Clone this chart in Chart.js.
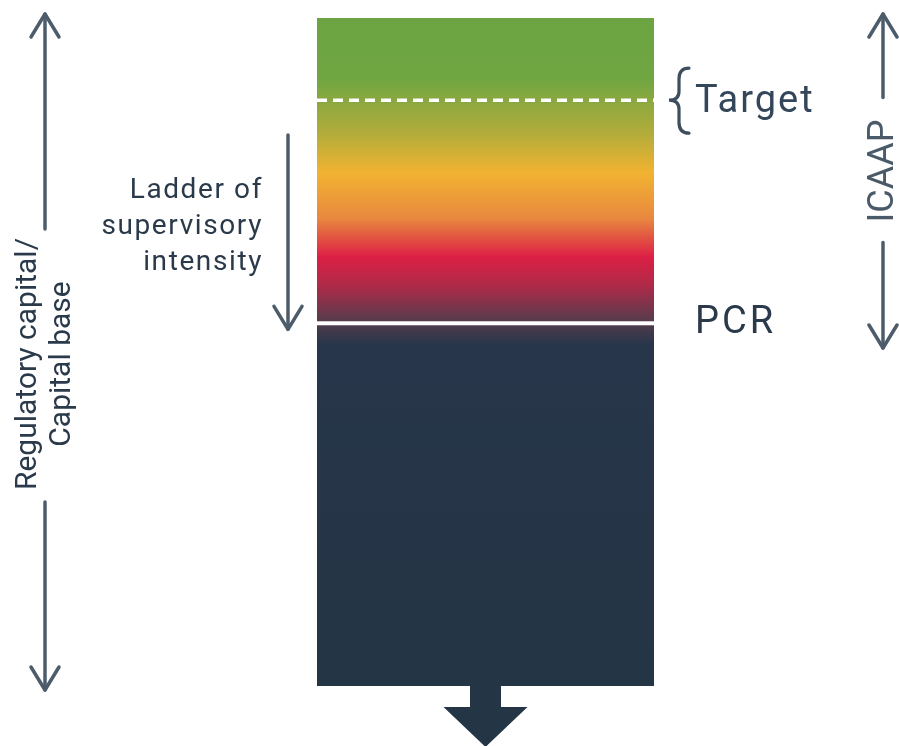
<!DOCTYPE html>
<html>
<head>
<meta charset="utf-8">
<script src="https://cdn.jsdelivr.net/npm/chart.js@4/dist/chart.umd.min.js"></script>
<style>
  body { margin: 0; background: #ffffff; }
  #wrap { width: 899px; height: 746px; position: relative; }
</style>
</head>
<body>
<div id="wrap"><canvas id="capitalChart"></canvas></div>
<script>
// column is measured in % of its full height (0 = bottom, 100 = top)
const segments = ["Capital base up to PCR", "Capital above PCR"];
const segmentValues = [54.3, 45.7];
const pcrLevel = 54.3;
const targetLevel = 87.7;
const ladderRange = [82.5, 53.4];     // arrow from / to
const leftArrowRange = [100.6, -0.6];
const rightArrowRange = [100.6, 50.6];

const leftLabelLines = ["Regulatory capital/", "Capital base"];
const ladderLines = ["Ladder of", "supervisory", "intensity"];
const targetLabel = "Target";
const pcrLabel = "PCR";
const rightLabel = "ICAAP";

const arrowColor = "#4c5c6a";
const textColor = "#2a3a4b";
const navy = "#243545";

let gradientCache = null;
function columnGradient(context) {
  const chart = context.chart;
  const area = chart.chartArea;
  if (!area) return navy;
  if (gradientCache && gradientCache.top === area.top && gradientCache.bottom === area.bottom) {
    return gradientCache.g;
  }
  const g = chart.ctx.createLinearGradient(0, area.top, 0, area.bottom);
  g.addColorStop(0, "#6ca443");
  g.addColorStop(0.09, "#6fa642");
  g.addColorStop(0.17, "#b0ac3b");
  g.addColorStop(0.232, "#f1b331");
  g.addColorStop(0.30, "#e8883f");
  g.addColorStop(0.358, "#dc1f45");
  g.addColorStop(0.40, "#b02a48");
  g.addColorStop(0.448, "#5f3a4c");
  g.addColorStop(0.462, "#4a3a4c");
  g.addColorStop(0.49, "#27364a");
  g.addColorStop(1, navy);
  gradientCache = { top: area.top, bottom: area.bottom, g: g };
  return g;
}

function openArrow(ctx, x, yFrom, yTo, headStart, headEnd) {
  ctx.save();
  ctx.strokeStyle = arrowColor;
  ctx.lineWidth = 3.5;
  ctx.lineCap = "round";
  ctx.lineJoin = "round";
  ctx.beginPath();
  ctx.moveTo(x, yFrom);
  ctx.lineTo(x, yTo);
  ctx.stroke();
  const hw = 14, hl = 23;
  function head(tipY, dir) {
    ctx.beginPath();
    ctx.moveTo(x - hw, tipY + dir * hl);
    ctx.lineTo(x, tipY);
    ctx.lineTo(x + hw, tipY + dir * hl);
    ctx.stroke();
  }
  if (headStart) head(yFrom, yFrom < yTo ? 1 : -1);
  if (headEnd) head(yTo, yTo > yFrom ? -1 : 1);
  ctx.restore();
}

const overlay = {
  id: "overlay",
  afterDatasetsDraw(chart) {
    const ctx = chart.ctx;
    const y = chart.scales.y;
    const area = chart.chartArea;

    // PCR gap
    const pcrY = y.getPixelForValue(pcrLevel);
    ctx.save();
    ctx.fillStyle = "#ffffff";
    ctx.fillRect(area.left, pcrY - 2, area.right - area.left, 4);

    // target dashed line
    const tY = y.getPixelForValue(targetLevel);
    ctx.strokeStyle = "#ffffff";
    ctx.lineWidth = 3.5;
    ctx.setLineDash([10, 6]);
    ctx.beginPath();
    ctx.moveTo(area.left, tY);
    ctx.lineTo(area.right, tY);
    ctx.stroke();
    ctx.setLineDash([]);

    // block arrow below the column
    const cx = (area.left + area.right) / 2;
    ctx.fillStyle = navy;
    ctx.beginPath();
    ctx.moveTo(cx - 15.5, area.bottom - 1);
    ctx.lineTo(cx + 15.5, area.bottom - 1);
    ctx.lineTo(cx + 15.5, area.bottom + 21);
    ctx.lineTo(cx + 42, area.bottom + 21);
    ctx.lineTo(cx, area.bottom + 61);
    ctx.lineTo(cx - 42, area.bottom + 21);
    ctx.lineTo(cx - 15.5, area.bottom + 21);
    ctx.closePath();
    ctx.fill();

    // brace + Target
    ctx.strokeStyle = "#3e4e5e";
    ctx.lineWidth = 3.2;
    ctx.lineCap = "round";
    const bx = 679, bt = tY - 32, bb = tY + 33;
    ctx.beginPath();
    ctx.moveTo(bx + 10, bt);
    ctx.quadraticCurveTo(bx, bt, bx, bt + 11);
    ctx.lineTo(bx, tY - 9);
    ctx.quadraticCurveTo(bx, tY, bx - 10, tY);
    ctx.quadraticCurveTo(bx, tY, bx, tY + 9);
    ctx.lineTo(bx, bb - 11);
    ctx.quadraticCurveTo(bx, bb, bx + 10, bb);
    ctx.stroke();

    ctx.fillStyle = "#34475a";
    ctx.font = "38px Roboto";
    ctx.letterSpacing = "2px";
    ctx.textAlign = "left";
    ctx.textBaseline = "middle";
    ctx.fillText(targetLabel, 695, tY + 2);
    ctx.fillStyle = textColor;
    ctx.letterSpacing = "3px";
    ctx.fillText(pcrLabel, 695, pcrY);
    ctx.letterSpacing = "0px";

    // ladder of supervisory intensity
    const lTop = y.getPixelForValue(ladderRange[0]);
    const lBot = y.getPixelForValue(ladderRange[1]);
    openArrow(ctx, 288, lTop, lBot, false, true);
    ctx.fillStyle = textColor;
    ctx.font = "28px Roboto";
    ctx.letterSpacing = "1.6px";
    ctx.textAlign = "right";
    ctx.textBaseline = "alphabetic";
    ladderLines.forEach(function (line, i) {
      ctx.fillText(line, 263, 198 + i * 36);
    });
    ctx.letterSpacing = "0px";

    // left axis arrow + rotated label
    const aTop = y.getPixelForValue(leftArrowRange[0]);
    const aBot = y.getPixelForValue(leftArrowRange[1]);
    const midY = 364;
    ctx.font = "30px Roboto";
    const half = ctx.measureText(leftLabelLines[0]).width / 2;
    openArrow(ctx, 45, aTop, midY - half - 9, true, false);
    openArrow(ctx, 45, midY + half + 12, aBot, false, true);
    ctx.save();
    ctx.translate(0, midY);
    ctx.rotate(-Math.PI / 2);
    ctx.fillStyle = textColor;
    ctx.textAlign = "center";
    ctx.textBaseline = "middle";
    ctx.fillText(leftLabelLines[0], 0, 28);
    ctx.fillText(leftLabelLines[1], 0, 62);
    ctx.restore();

    // ICAAP arrow on the right
    const rTop = y.getPixelForValue(rightArrowRange[0]);
    const rBot = y.getPixelForValue(rightArrowRange[1]);
    const rMid = 171;
    ctx.font = "36px Roboto";
    const rHalf = ctx.measureText(rightLabel).width / 2;
    openArrow(ctx, 883, rTop, rMid - rHalf - 22, true, false);
    openArrow(ctx, 883, rMid + rHalf + 20, rBot, false, true);
    ctx.save();
    ctx.translate(883, rMid);
    ctx.rotate(-Math.PI / 2);
    ctx.fillStyle = "#4a5a68";
    ctx.textAlign = "center";
    ctx.textBaseline = "middle";
    ctx.fillText(rightLabel, 0, 1);
    ctx.restore();

    ctx.restore();
  }
};

document.addEventListener("DOMContentLoaded", function () {
  const ctx = document.getElementById("capitalChart").getContext("2d");
  new Chart(ctx, {
    type: "bar",
    data: {
      labels: [""],
      datasets: segments.map(function (name, i) {
        return {
          label: name,
          data: [segmentValues[i]],
          backgroundColor: columnGradient,
          borderWidth: 0,
          barPercentage: 1,
          categoryPercentage: 1
        };
      })
    },
    options: {
      responsive: true,
      maintainAspectRatio: false,
      animation: false,
      layout: { padding: { left: 317, right: 245, top: 18, bottom: 60 } },
      scales: {
        x: { stacked: true, display: false },
        y: { stacked: true, display: false, min: 0, max: 100 }
      },
      plugins: {
        legend: { display: false },
        tooltip: { enabled: false }
      }
    },
    plugins: [overlay]
  });
});
</script>
</body>
</html>
